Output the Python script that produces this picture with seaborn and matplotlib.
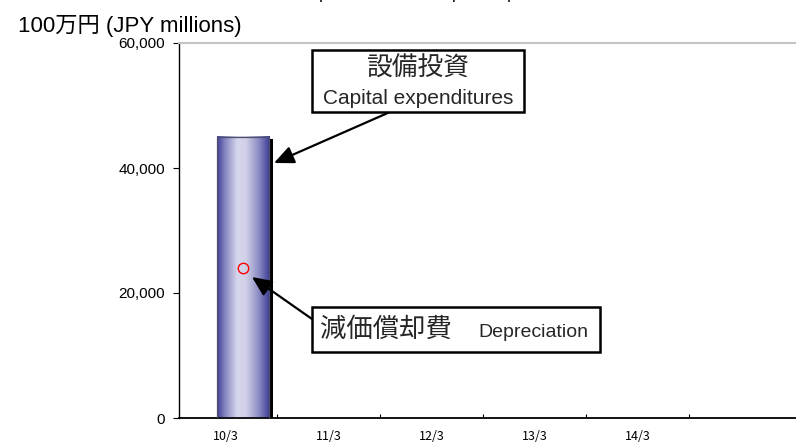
import numpy as np
import pandas as pd
import matplotlib
matplotlib.use("Agg")
import matplotlib.pyplot as plt
import seaborn as sns
from matplotlib.patches import Rectangle
import matplotlib.patheffects as pe
from matplotlib.colors import LinearSegmentedColormap

# ---------------- data ----------------
categories = ["10/3", "11/3", "12/3", "13/3", "14/3"]
capex = [45000, np.nan, np.nan, np.nan, np.nan]
depreciation = [24000, np.nan, np.nan, np.nan, np.nan]
yticks = [0, 20000, 40000, 60000]
ytick_labels = ["0", "20,000", "40,000", "60,000"]

title = "Depreciation and capital expenditures"
unit_label = "100万円 (JPY millions)"
capex_jp, capex_en = "設備投資", "Capital expenditures"
dep_jp, dep_en = "減価償却費", "Depreciation"

# ---------------- style ----------------
sns.set_theme(style="white")
plt.rcParams['font.family'] = ['Liberation Sans', 'Noto Sans CJK JP']

W, H = 796, 444
fig = plt.figure(figsize=(W / 100, H / 100), dpi=100)
ax = fig.add_axes([179 / W, 26 / H, (W - 179) / W, 375 / H])

def fx(x):
    return x / W

def fy(y):
    return 1 - y / H

BAR_SHIFT = 0.165

df = pd.DataFrame({"period": categories, "capex": capex})
sns.barplot(data=df, x="period", y="capex", order=categories, width=0.505,
            color="#6a6ab0", errorbar=None, ax=ax, zorder=2)

cmap = LinearSegmentedColormap.from_list(
    "barfill", [(0.0, "#3e3e98"), (0.15, "#8484c0"), (0.38, "#d6d6ec"),
                (0.55, "#d0d0e8"), (0.8, "#8888c2"), (1.0, "#3a3a96")])
grad = np.linspace(0, 1, 256).reshape(1, -1)

for p in list(ax.patches):
    h = p.get_height()
    if not np.isfinite(h) or h == 0:
        continue
    p.set_x(p.get_x() + BAR_SHIFT)
    x0, w = p.get_x(), p.get_width()
    p.set_facecolor("none")
    p.set_edgecolor("none")
    p.set_path_effects([pe.SimplePatchShadow(offset=(3.0, -1.5), shadow_rgbFace="black", alpha=1.0)])
    ax.imshow(grad, cmap=cmap, extent=(x0, x0 + w, 0, h), aspect="auto", zorder=2.5)
    ax.add_patch(Rectangle((x0, 0), w, h, fill=False, edgecolor="#505068", lw=0.9, zorder=3))

xpos = np.arange(len(categories)) + BAR_SHIFT
sns.lineplot(x=xpos, y=depreciation, marker="o", markersize=7.5, markerfacecolor="none",
             markeredgecolor="red", markeredgewidth=1.0, color="red", linewidth=0, ax=ax, zorder=4)

ax.set_xlim(-0.456, 5.534)
ax.set_ylim(0, 60000)
ax.set_yticks(yticks)
ax.set_yticklabels(ytick_labels)
ax.set_xticks(np.arange(len(categories)))
ax.set_xticklabels(categories, family=['Noto Sans CJK JP'])
ax.set_xticks(np.arange(len(categories)) + 0.5, minor=True)
ax.set_xlabel("")
ax.set_ylabel("")

ax.tick_params(axis="x", which="major", length=0, pad=8.5, labelsize=9, bottom=True, colors="black")
ax.tick_params(axis="x", which="minor", direction="in", length=3, width=0.8, bottom=True, color="black")
ax.tick_params(axis="y", direction="out", length=4, width=0.8, pad=6, labelsize=11, left=True,
               colors="black")

for s in ["left", "bottom"]:
    ax.spines[s].set_color("black")
    ax.spines[s].set_linewidth(1.0)
ax.spines["bottom"].set_linewidth(1.3)
ax.spines["top"].set_color("#c4c4c4")
ax.spines["top"].set_linewidth(1.5)
ax.spines["right"].set_visible(False)

# title (mostly cropped at the top, as in the reference) and unit label
fig.text(fx(443), fy(-1), title, ha="center", va="baseline", fontsize=12.5, color="black")
fig.text(fx(18), fy(32), unit_label, ha="left", va="baseline", fontsize=16, color="black")

# annotation box: capital expenditures
fig.add_artist(Rectangle((fx(312), fy(112)), (524 - 312) / W, (112 - 50) / H,
                         transform=fig.transFigure, facecolor="white", edgecolor="black", lw=1.8, zorder=5))
fig.text(fx(418), fy(69), capex_jp, ha="center", va="center", fontsize=18.5, zorder=6)
fig.text(fx(418), fy(98), capex_en, ha="center", va="center", fontsize=15, zorder=6)
ax.annotate("", xy=(fx(274), fy(163)), xycoords="figure fraction",
            xytext=(fx(390), fy(112)), textcoords="figure fraction",
            arrowprops=dict(arrowstyle="-|>,head_length=1.0,head_width=0.45", color="black",
                            lw=1.6, shrinkA=0, shrinkB=0), zorder=5)

# annotation box: depreciation
fig.add_artist(Rectangle((fx(312), fy(352)), (600 - 312) / W, (352 - 307) / H,
                         transform=fig.transFigure, facecolor="white", edgecolor="black", lw=1.8, zorder=5))
fig.text(fx(320), fy(330), dep_jp, ha="left", va="center", fontsize=19, zorder=6)
fig.text(fx(588), fy(332), dep_en, ha="right", va="center", fontsize=14, zorder=6)
ax.annotate("", xy=(fx(252), fy(277)), xycoords="figure fraction",
            xytext=(fx(312), fy(319)), textcoords="figure fraction",
            arrowprops=dict(arrowstyle="-|>,head_length=1.0,head_width=0.45", color="black",
                            lw=1.6, shrinkA=0, shrinkB=0), zorder=5)

fig.savefig("out.png", dpi=100)
